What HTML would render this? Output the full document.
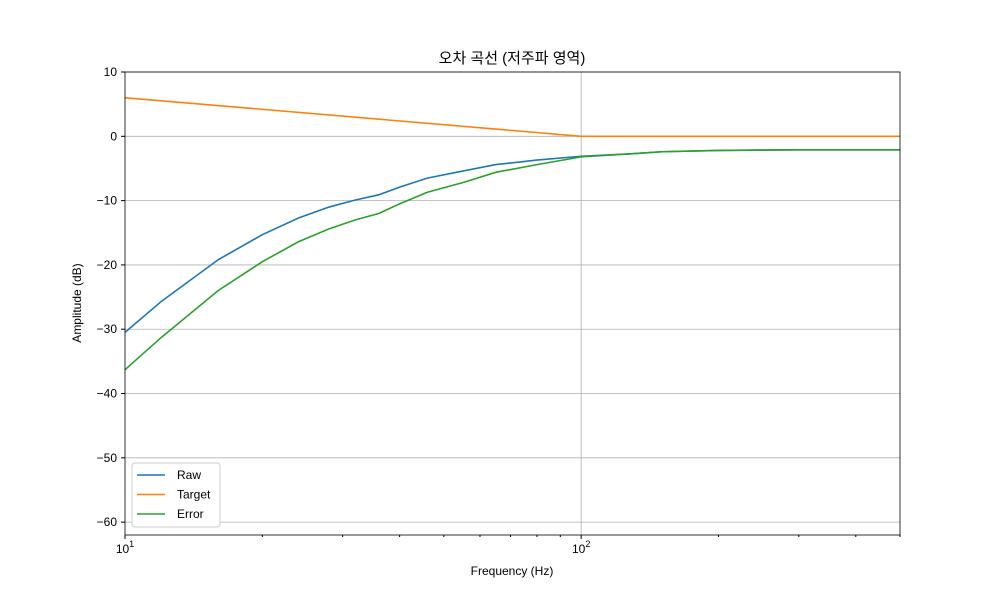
<!DOCTYPE html>
<html><head><meta charset="utf-8"><style>
body{margin:0;background:#fff}
text{font-family:"Liberation Sans","Noto Sans CJK KR",sans-serif;fill:#000}
</style></head><body>
<svg id="c" width="1000" height="600" xmlns="http://www.w3.org/2000/svg"></svg>
<script>
const freqs=[10,12,16,20,24,28,32,36,40,46,55,65,80,100,130,150,200,300,400,500];
const rawVals=[-30.5,-25.7,-19.2,-15.3,-12.7,-11,-9.9,-9.1,-7.9,-6.5,-5.4,-4.4,-3.7,-3.1,-2.7,-2.4,-2.2,-2.1,-2.1,-2.1];
const errVals=[-36.3,-31.3,-24,-19.5,-16.4,-14.4,-13,-12,-10.5,-8.7,-7.2,-5.6,-4.4,-3.2,-2.7,-2.4,-2.2,-2.1,-2.1,-2.1];
const targetFreqs=[10,100,500];
const targetVals=[6,0,0];
const yTicks=[10,0,-10,-20,-30,-40,-50,-60];
const L=125,R=900,T=72,B=535,xmin=10,xmax=500,ymin=-62,ymax=10;
const X=f=>L+(Math.log10(f)-1)/(Math.log10(xmax)-1)*(R-L);
const Y=v=>T+(ymax-v)/(ymax-ymin)*(B-T);
const svg=document.getElementById('c');const NS='http://www.w3.org/2000/svg';
function mk(t,a,p){const e=document.createElementNS(NS,t);for(const k in a)e.setAttribute(k,a[k]);(p||svg).appendChild(e);return e;}
// grid
yTicks.forEach(v=>{const g=mk('line',{x1:L,x2:R,y1:Y(v),y2:Y(v),stroke:'#b0b0b0','stroke-width':0.8});

mk('line',{x1:L-4,x2:L,y1:Y(v),y2:Y(v),stroke:'#000'});
const t=mk('text',{x:L-8,y:Y(v)+4,'text-anchor':'end','font-size':12});t.textContent=v<0?'\u221210'.replace('10',String(-v)):String(v);
});
const vg=mk('line',{x1:X(100),x2:X(100),y1:T,y2:B,stroke:'#b0b0b0','stroke-width':0.8});

// minor x ticks
for(let d of [10,100])for(let m=2;m<10;m++){const f=d*m;if(f<=xmax)mk('line',{x1:X(f),x2:X(f),y1:B,y2:B+2,stroke:'#000'});}
[[10,'10','1'],[100,'10','2']].forEach(([f,b,e])=>{mk('line',{x1:X(f),x2:X(f),y1:B,y2:B+4,stroke:'#000'});
const t=mk('text',{x:X(f),y:B+18,'text-anchor':'middle','font-size':12});t.innerHTML=b+'<tspan dy="-6" font-size="9">'+e+'</tspan>';
});
function line(fs,vs,col,name){const p=mk('polyline',{points:fs.map((f,i)=>X(f)+','+Y(vs[i])).join(' '),fill:'none',stroke:col,'stroke-width':1.6});
}
line(freqs,rawVals,'#1f77b4','raw-line');
line(targetFreqs,targetVals,'#ff7f0e','target-line');
line(freqs,errVals,'#2ca02c','error-line');
const fr=mk('rect',{x:L,y:T,width:R-L,height:B-T,fill:'none',stroke:'#000','stroke-width':0.8});

let t=mk('text',{x:512,y:63,'text-anchor':'middle','font-size':15});t.textContent='오차 곡선 (저주파 영역)';

t=mk('text',{x:512,y:575,'text-anchor':'middle','font-size':12});t.textContent='Frequency (Hz)';

t=mk('text',{x:81,y:303,'text-anchor':'middle','font-size':12,transform:'rotate(-90 81 303)'});t.textContent='Amplitude (dB)';

const lg=mk('g',{});
mk('rect',{x:132,y:463,width:88,height:64,fill:'#fff',stroke:'#ccc',rx:3},lg);
[['Raw','#1f77b4'],['Target','#ff7f0e'],['Error','#2ca02c']].forEach(([n,c],i)=>{const y=475+i*19.5;
const g=mk('g',{},lg);
mk('line',{x1:137,x2:165,y1:y,y2:y,stroke:c,'stroke-width':1.6},g);
const tt=mk('text',{x:177,y:y+4,'font-size':12},g);tt.textContent=n;});
</script></body></html>
